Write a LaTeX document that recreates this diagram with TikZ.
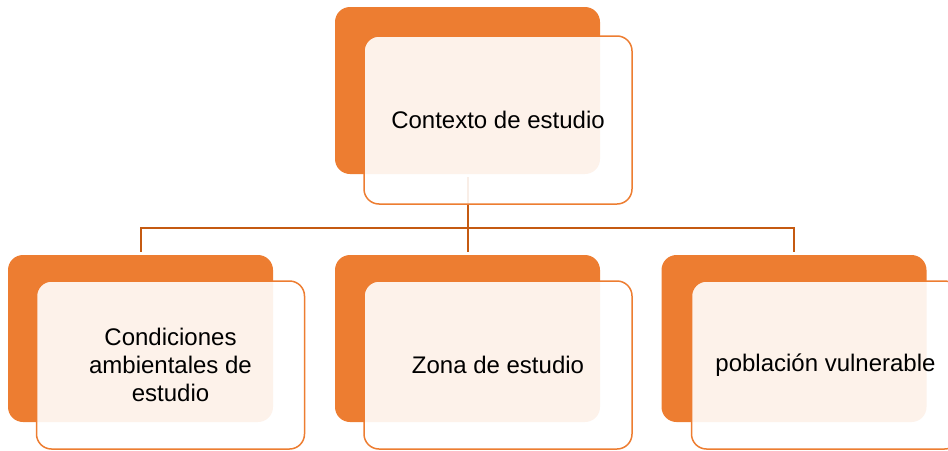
\documentclass[tikz,border=0pt]{standalone}
\usepackage{fontspec}
\setmainfont{Liberation Sans}
\definecolor{boxorange}{HTML}{ED7D31}
\definecolor{linkbrown}{HTML}{C55A11}
\tikzset{
  backbox/.style={rectangle, rounded corners=15pt, fill=boxorange,
    minimum width=265pt, minimum height=167pt, inner sep=0pt},
  frontbox/.style={rectangle, rounded corners=15pt, draw=boxorange,
    line width=1.5pt, fill=white, fill opacity=0.9, text opacity=1,
    minimum width=268pt, minimum height=168pt, inner sep=0pt,
    align=center, font=\fontsize{24}{27.6}\selectfont},
  link/.style={draw=linkbrown, line width=2pt}
}
\begin{document}
\begin{tikzpicture}[x=1pt,y=-1pt]
      \clip (0,0) rectangle (948,450);
      \draw
        (467.5,90.5) node[backbox] (ctxb){}
        (140.5,338.5) node[backbox] (condb){}
        (467.5,338.5) node[backbox] (zonab){}
        (794,338.5) node[backbox] (poblb){};
      \coordinate (bus) at (467.5,228);
      \begin{scope}[link, shorten <=3pt]
        \draw (ctxb.south) -- (bus);
        \draw (condb.north) |- (bus);
        \draw (zonab.north) -- (bus);
        \draw (poblb.north) |- (bus);
      \end{scope}
      \draw
        (498,120) node[frontbox] (ctx){Contexto de estudio}
        (170.5,365) node[frontbox] (cond){Condiciones\\ambientales de\\estudio}
        (498,365) node[frontbox] (zona){Zona de estudio}
        (825.5,365) node[frontbox] (pobl){población vulnerable};
    \end{tikzpicture}
\end{document}
